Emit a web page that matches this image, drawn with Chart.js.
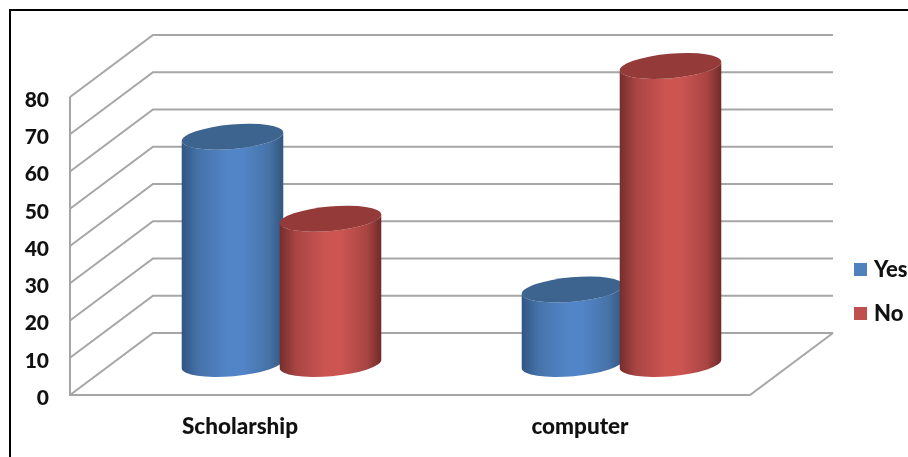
<!DOCTYPE html>
<html>
<head>
<meta charset="utf-8">
<title>Scholarship and computer</title>
<script src="https://cdn.jsdelivr.net/npm/chart.js@4/dist/chart.umd.min.js"></script>
<style>
    html, body { margin: 0; padding: 0; background: #fff; overflow: hidden; }
    #wrap { position: relative; width: 908px; height: 457px; }
    #frame { position: absolute; left: 9px; top: 9px; right: 0; bottom: 0; border-left: 2px solid #000; border-top: 2px solid #000; }
    canvas { position: absolute; left: 0; top: 0; }
</style>
</head>
<body>
<div id="wrap">
    <canvas id="chart" width="908" height="457"></canvas>
    <div id="frame"></div>
</div>
<script>
'use strict';
const categories = ['Scholarship', 'computer'];
const yesValues = [61, 20];
const noValues = [39, 80];
const yTicks = [0, 10, 20, 30, 40, 50, 60, 70, 80];

const FAMILY = 'Lato, "Open Sans", sans-serif';
const GRID = '#a6a6a6';

const shades = [
    { edgeL: '#2f5684', mid: '#4672a8', peak: '#5285c7', edgeR: '#33567e', top: '#3c648f' },
    { edgeL: '#752e2c', mid: '#a84543', peak: '#cc5552', edgeR: '#6f2b29', top: '#943a38' }
];

// 3D box behind the bars: floor, left wall and back wall
function drawWalls(ctx, chart) {
    const { left, right, bottom } = chart.chartArea;
    const y = chart.scales.y;
    const depthX = 83, depthY = 62;
    ctx.save();
    ctx.strokeStyle = GRID;
    ctx.lineWidth = 2;
    yTicks.forEach(tick => {
        const py = y.getPixelForValue(tick);
        ctx.beginPath();
        ctx.moveTo(left, py);
        ctx.lineTo(left + depthX, py - depthY);
        ctx.lineTo(right + depthX, py - depthY);
        ctx.stroke();
    });
    ctx.beginPath();
    ctx.moveTo(left, y.getPixelForValue(yTicks[yTicks.length - 1]));
    ctx.lineTo(left, bottom);
    ctx.lineTo(right, bottom);
    ctx.lineTo(right + depthX, bottom - depthY);
    ctx.stroke();
    ctx.restore();
}

// cylinder stands in the middle of the depth, so shift the bar by half of it
function drawCylinder(ctx, bar, shade) {
    const shiftX = 41.5, shiftY = 31;
    const cx = bar.x + shiftX;
    const rx = bar.width / 2, ry = 12.2, tilt = -5 * Math.PI / 180;
    const topY = bar.y - shiftY, baseY = bar.base - shiftY;
    const endX = rx * Math.cos(tilt), endY = rx * Math.sin(tilt);

    const grad = ctx.createLinearGradient(cx - endX, 0, cx + endX, 0);
    grad.addColorStop(0, shade.edgeL);
    grad.addColorStop(0.16, shade.mid);
    grad.addColorStop(0.45, shade.peak);
    grad.addColorStop(0.6, shade.peak);
    grad.addColorStop(0.86, shade.mid);
    grad.addColorStop(1, shade.edgeR);

    ctx.save();
    ctx.fillStyle = grad;
    ctx.beginPath();
    ctx.moveTo(cx - endX, topY - endY);
    ctx.lineTo(cx - endX, baseY - endY);
    ctx.ellipse(cx, baseY, rx, ry, tilt, Math.PI, 0, true);
    ctx.lineTo(cx + endX, topY + endY);
    ctx.ellipse(cx, topY, rx, ry, tilt, 0, Math.PI, false);
    ctx.closePath();
    ctx.fill();

    ctx.fillStyle = shade.top;
    ctx.beginPath();
    ctx.ellipse(cx, topY, rx, ry, tilt, 0, Math.PI * 2);
    ctx.fill();
    ctx.restore();
}

const cylinder3d = {
    id: 'cylinder3d',
    afterLayout(chart) {
        // legend sits lower and further in than the library would put it
        const legend = chart.legend;
        const pad = legend.options.labels.padding;
        legend.left = 858 - pad;
        legend.right = 908;
        legend.top = 258.5 - pad;
        legend.bottom = legend.top + 120;
        // value labels sit a little below their gridline ends
        chart.scales.y.getLabelItems().forEach(item => { item.options.translation[1] += 3; });
    },
    beforeDatasetsDraw(chart) {
        const ctx = chart.ctx;
        drawWalls(ctx, chart);
        chart.data.datasets.forEach((ds, i) => {
            chart.getDatasetMeta(i).data.forEach(bar => drawCylinder(ctx, bar, shades[i]));
        });
        return false;
    }
};

new Chart(document.getElementById('chart'), {
    type: 'bar',
    data: {
        labels: categories,
        datasets: [
            // thick border + tiny box keeps the legend text close to its square
            { label: 'Yes', data: yesValues, backgroundColor: '#4f81bd', borderColor: '#4f81bd', borderWidth: 8 },
            { label: 'No', data: noValues, backgroundColor: '#c0504d', borderColor: '#c0504d', borderWidth: 8 }
        ]
    },
    options: {
        responsive: false,
        animation: false,
        categoryPercentage: 0.5765,
        barPercentage: 1.04,
        layout: { padding: { left: 0, right: 157, top: 97, bottom: 0 } },
        plugins: {
            tooltip: { enabled: false },
            legend: {
                position: 'right',
                align: 'start',
                maxWidth: 1,
                labels: {
                    boxWidth: 5,
                    boxHeight: 5,
                    padding: 22,
                    color: '#111',
                    font: { family: FAMILY, weight: '900', size: 22 }
                }
            }
        },
        scales: {
            x: {
                grid: { display: false, drawTicks: false },
                border: { display: false },
                ticks: { color: '#111', font: { family: FAMILY, weight: '900', size: 22.5 }, padding: 18, maxRotation: 0 },
                afterFit(scale) { scale.height = 62; }
            },
            y: {
                min: 0,
                max: 80,
                grid: { display: false, drawTicks: false },
                border: { display: false },
                ticks: { color: '#111', font: { family: FAMILY, weight: '900', size: 21 }, padding: 21, stepSize: 10 },
                afterFit(scale) { scale.width = 70; }
            }
        }
    },
    plugins: [cylinder3d]
});
</script>
</body>
</html>
